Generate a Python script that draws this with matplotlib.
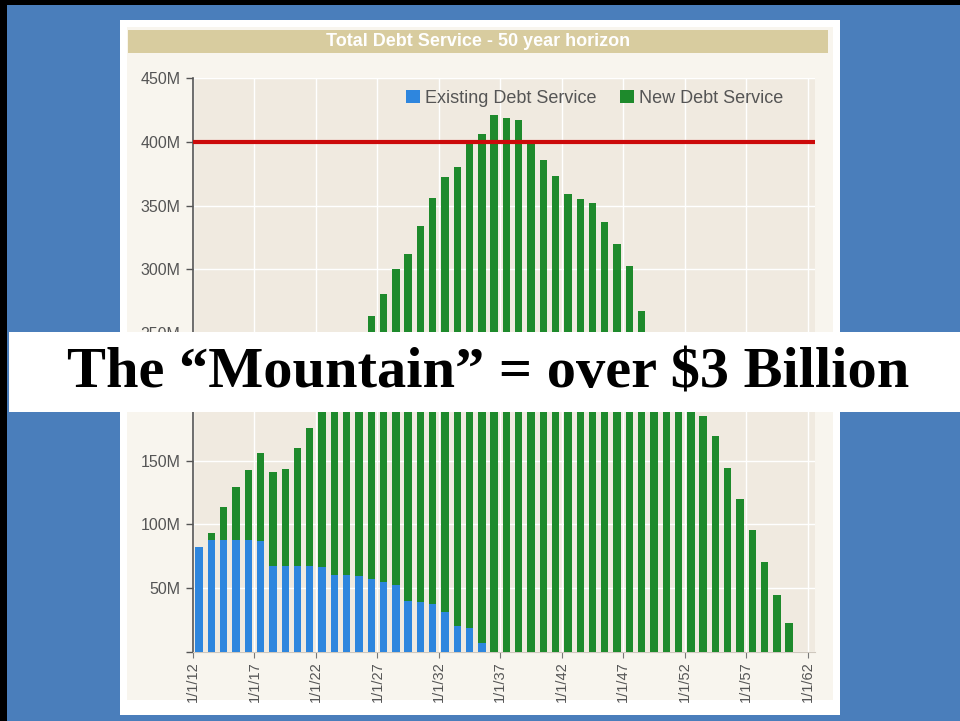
import matplotlib
matplotlib.use("Agg")
import matplotlib.pyplot as plt
from matplotlib.patches import Rectangle
import numpy as np

# ---- data (millions of dollars) ----
years = list(range(2012, 2061))
existing_debt = [82, 88, 88, 88, 88, 87, 67.5, 67.5, 67.5, 67.5, 67, 60.5, 60, 59.5,
                 57.5, 54.5, 52.5, 40, 39.5, 38, 31.5, 20, 18.5, 7] + [0] * 25
new_debt = [0, 5.5, 25.5, 41, 54.5, 69, 73.5, 76, 92.5, 108.5, 128, 151.5, 168, 185.5,
            206, 226.5, 247.5, 272, 294.5, 318, 340.5, 360, 380.5, 399,
            421, 419, 417, 399, 386, 373, 359, 355, 352, 337, 320, 303, 267,
            250, 233, 217, 201, 185, 169, 144, 120, 96, 70.5, 45, 22.5]
tick_years = list(range(2012, 2063, 5))
tick_labels = ["1/1/%02d" % (y % 100) for y in tick_years]
y_ticks = [0, 50, 100, 150, 200, 250, 300, 350, 400, 450]
# 0 has no label; 200M is hidden behind the banner in the reference
y_labels = ["", "50M", "100M", "150M", "", "250M", "300M", "350M", "400M", "450M"]
threshold = 400
title = "Total Debt Service - 50 year horizon"
banner = "The \u201cMountain\u201d = over $3 Billion"

W, H = 960, 721
fig = plt.figure(figsize=(W / 100, H / 100), dpi=100)
fig.patch.set_facecolor("#4A7EBB")


def fx(x):
    return x / W


def fy(y):
    return 1 - y / H


def rect(x0, y0, x1, y1, **kw):
    r = Rectangle((fx(x0), fy(y1)), fx(x1) - fx(x0), fy(y0) - fy(y1),
                  transform=fig.transFigure, **kw)
    fig.add_artist(r)
    return r


# slide border (black, left and top)
rect(0, 0, W, 5, facecolor="black", edgecolor="none", zorder=0)
rect(0, 0, 7, H, facecolor="black", edgecolor="none", zorder=0)

# photo of the chart
rect(120, 20, 840, 715, facecolor="#FFFFFF", edgecolor="none", zorder=0)
rect(127, 27, 833, 700, facecolor="#F8F5EE", edgecolor="none", zorder=0)
# title bar
rect(128, 30, 828, 53, facecolor="#D8CC9F", edgecolor="none", zorder=1)
fig.text(fx(478), fy(42), title, color="white", fontsize=13, fontweight="bold",
         family="Liberation Sans", ha="center", va="center", zorder=2)

ax = fig.add_axes([fx(193), fy(652), fx(815) - fx(193), fy(78) - fy(652)])
ax.set_facecolor("#F0EAE0")

x = np.array(years) + 0.5
ax.bar(x, existing_debt, width=0.6, color="#2E86DE", label="Existing Debt Service", zorder=3)
ax.bar(x, new_debt, width=0.6, bottom=existing_debt, color="#1E8A2C",
       label="New Debt Service", zorder=3)
ax.axhline(threshold, color="#CC0A0A", lw=3, zorder=4)

ax.set_xlim(2012, 2062.6)
ax.set_ylim(0, 450)
ax.set_yticks(y_ticks)
ax.set_yticklabels(y_labels)
ax.set_xticks(tick_years)
ax.set_xticklabels(tick_labels, rotation=90)
ax.grid(True, color="white", lw=1, zorder=0)
ax.set_axisbelow(True)
for s in ["top", "right"]:
    ax.spines[s].set_visible(False)
ax.spines["left"].set_color("#555555")
ax.spines["left"].set_linewidth(1.2)
ax.spines["bottom"].set_color("#CFC8BE")
ax.tick_params(axis="y", colors="#555555", labelsize=11.5, length=5, width=1, pad=4)
ax.tick_params(axis="x", colors="#777777", labelcolor="#555555", labelsize=10.5, length=4, pad=3)
for t in ax.get_xticklabels() + ax.get_yticklabels():
    t.set_family("Liberation Sans")

leg = ax.legend(loc="upper right", bbox_to_anchor=(0.975, 1.008), ncol=2, frameon=False,
                handlelength=0.75, handleheight=0.75, handletextpad=0.3,
                columnspacing=1.3, prop={"family": "Liberation Sans", "size": 13})
for t in leg.get_texts():
    t.set_color("#555555")

# banner
rect(9, 332, W, 412, facecolor="white", edgecolor="none", zorder=10)
fig.text(fx(488), fy(374), banner, fontsize=42, fontweight="bold", family="Liberation Serif",
         ha="center", va="center", color="black", zorder=11)

fig.savefig("out.png", dpi=100, facecolor=fig.get_facecolor())
